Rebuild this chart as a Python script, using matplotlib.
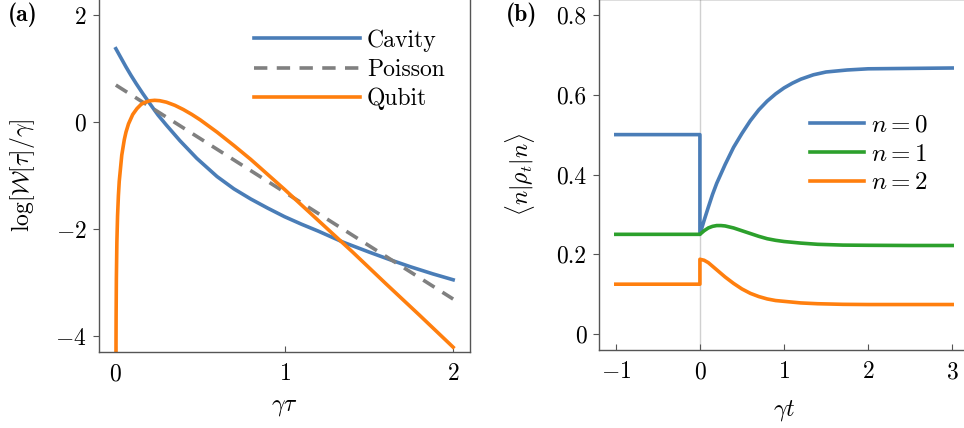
import matplotlib
matplotlib.use("Agg")
import matplotlib.pyplot as plt

plt.rcParams.update({
    "font.family": "serif",
    "font.serif": ["cmr10"],
    "mathtext.fontset": "cm",
    "axes.formatter.use_mathtext": True,
    "axes.unicode_minus": True,
    "font.size": 17,
})

# ---------------- panel (a) data ----------------
tau_cavity = [0.0, 0.03, 0.06, 0.09, 0.12, 0.16, 0.2, 0.25, 0.3, 0.38, 0.48, 0.6, 0.7,
              0.8, 0.9, 1.0, 1.1, 1.2, 1.35, 1.5, 1.63, 1.75, 1.88, 2.0]
logW_cavity = [1.37, 1.20, 1.03, 0.87, 0.72, 0.53, 0.35, 0.13, -0.06, -0.35, -0.68, -1.02,
               -1.25, -1.44, -1.61, -1.77, -1.91, -2.04, -2.25, -2.43, -2.58, -2.71, -2.84, -2.95]

tau_poisson = [0.0, 2.0]
logW_poisson = [0.69, -3.31]

tau_qubit = [0.0007, 0.001, 0.0015, 0.003, 0.006, 0.01, 0.015, 0.02, 0.035, 0.05, 0.06, 0.075,
             0.1, 0.125, 0.15, 0.17, 0.2, 0.23, 0.26, 0.3, 0.35, 0.4, 0.45, 0.5, 0.6, 0.7,
             0.8, 0.9, 1.0, 1.2, 1.4, 1.6, 1.8, 2.0]
logW_qubit = [-4.37, -4.02, -3.62, -2.93, -2.25, -1.76, -1.38, -1.11, -0.62, -0.33, -0.19,
              -0.035, 0.14, 0.25, 0.33, 0.364, 0.396, 0.405, 0.398, 0.37, 0.311, 0.233, 0.142,
              0.04, -0.19, -0.44, -0.70, -0.98, -1.26, -1.84, -2.42, -3.02, -3.61, -4.21]

series_a = ["Cavity", "Poisson", "Qubit"]
a_xticks = [0, 1, 2]
a_yticks = [2, 0, -2, -4]

# ---------------- panel (b) data ----------------
t_n0 = [-1.0, 0.0, 0.0, 0.05, 0.1, 0.15, 0.2, 0.3, 0.4, 0.5, 0.6, 0.7, 0.8, 0.9, 1.0, 1.1,
        1.2, 1.35, 1.5, 1.75, 2.0, 2.5, 3.0]
p_n0 = [0.5, 0.5, 0.25, 0.285, 0.318, 0.35, 0.378, 0.425, 0.468, 0.503, 0.535, 0.562, 0.584,
        0.602, 0.617, 0.629, 0.639, 0.65, 0.657, 0.662, 0.665, 0.666, 0.667]

t_n1 = [-1.0, 0.0, 0.05, 0.1, 0.15, 0.2, 0.25, 0.3, 0.4, 0.5, 0.6, 0.7, 0.8, 0.9, 1.0, 1.2,
        1.4, 1.7, 2.0, 2.5, 3.0]
p_n1 = [0.25, 0.25, 0.259, 0.266, 0.27, 0.272, 0.272, 0.271, 0.266, 0.259, 0.252, 0.245,
        0.239, 0.235, 0.232, 0.228, 0.225, 0.223, 0.2225, 0.222, 0.222]

t_n2 = [-1.0, 0.0, 0.0, 0.05, 0.1, 0.15, 0.2, 0.3, 0.4, 0.5, 0.6, 0.7, 0.8, 0.9, 1.0, 1.2,
        1.4, 1.7, 2.0, 2.5, 3.0]
p_n2 = [0.125, 0.125, 0.1875, 0.185, 0.179, 0.17, 0.161, 0.143, 0.127, 0.113, 0.102, 0.094,
        0.088, 0.084, 0.082, 0.078, 0.076, 0.0745, 0.074, 0.074, 0.074]

series_b = [r"$n=0$", r"$n=1$", r"$n=2$"]
b_xticks = [-1, 0, 1, 2, 3]
b_yticks = [0, 0.2, 0.4, 0.6, 0.8]
b_yticklabels = ["0", "0.2", "0.4", "0.6", "0.8"]

BLUE = "#4a7db7"
ORANGE = "#ff7f0e"
GREEN = "#2ca02c"
GRAY = "#808080"
SPINE = "#555555"
LW = 2.6

fig = plt.figure(figsize=(9.64, 4.28), dpi=100)
H = 428.0
W = 964.0
ax1 = fig.add_axes([99 / W, 1 - 352 / H, (470 - 99) / W, (352 + 1.05) / H])
ax2 = fig.add_axes([599 / W, 1 - 350 / H, (969 - 599) / W, (350 + 1.0) / H])

def style(ax):
    for s in ax.spines.values():
        s.set_color(SPINE)
        s.set_linewidth(1.0)
    ax.tick_params(axis="x", direction="in", length=4, width=0.8, color=SPINE, pad=8)
    ax.tick_params(axis="y", direction="out", length=4, width=0.8, color=SPINE, pad=5)

# panel (a)
ax1.plot(tau_cavity, logW_cavity, color=BLUE, lw=LW, label=series_a[0])
ax1.plot(tau_poisson, logW_poisson, color=GRAY, lw=LW, dashes=(3.7, 2.6), label=series_a[1])
ax1.plot(tau_qubit, logW_qubit, color=ORANGE, lw=LW, label=series_a[2])
ax1.set_xlim(-0.1, 2.1)
ax1.set_ylim(-4.3, 2.3)
ax1.set_xticks(a_xticks)
ax1.set_yticks(a_yticks)
style(ax1)
ax1.set_xlabel(r"$\gamma\tau$", fontsize=17)
ax1.xaxis.set_label_coords(0.5, -0.125)
ax1.set_ylabel(r"$\log[\mathcal{W}[\tau]/\gamma]$", fontsize=17)
ax1.yaxis.set_label_coords(-0.167, 0.5)
ax1.legend(loc="upper left", bbox_to_anchor=(0.385, 0.948), frameon=False, borderpad=0,
           handlelength=4.5, handletextpad=0.3, labelspacing=0.3, fontsize=17)

# panel (b)
ax2.axvline(0, color="#d0d0d0", lw=1.0, zorder=0)
ax2.plot(t_n0, p_n0, color=BLUE, lw=LW, label=series_b[0])
ax2.plot(t_n1, p_n1, color=GREEN, lw=LW, label=series_b[1])
ax2.plot(t_n2, p_n2, color=ORANGE, lw=LW, label=series_b[2])
ax2.set_xlim(-1.2, 3.2)
ax2.set_ylim(-0.04, 0.84)
ax2.set_xticks(b_xticks)
ax2.set_yticks(b_yticks)
ax2.set_yticklabels(b_yticklabels)
style(ax2)
ax2.set_xlabel(r"$\gamma t$", fontsize=17)
ax2.xaxis.set_label_coords(0.5, -0.137)
ax2.set_ylabel(r"$\langle n|\rho_t|n\rangle$", fontsize=17)
ax2.yaxis.set_label_coords(-0.168, 0.5)
ax2.legend(loc="upper left", bbox_to_anchor=(0.537, 0.707), frameon=False, borderpad=0,
           handlelength=2.15, handletextpad=0.3, labelspacing=0.25, fontsize=18)

fig.text(8 / W, 1 - 15 / H, "(a)", fontfamily="cmb10", fontsize=17, va="center", ha="left")
fig.text(506 / W, 1 - 15 / H, "(b)", fontfamily="cmb10", fontsize=17, va="center", ha="left")

fig.savefig("out.png", dpi=100)
